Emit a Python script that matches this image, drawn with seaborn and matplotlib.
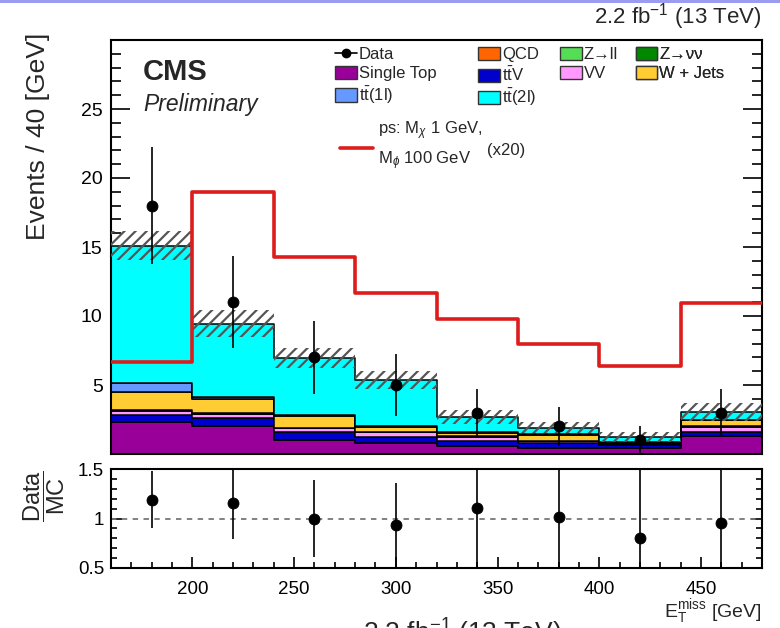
import matplotlib
matplotlib.use("Agg")
import matplotlib.pyplot as plt
from matplotlib.lines import Line2D
from matplotlib.patches import Patch, Rectangle
from matplotlib.ticker import MultipleLocator, FixedLocator, FixedFormatter
import pandas as pd
import seaborn as sns

# ---- binning in missing transverse energy [GeV] ----
bin_edges = [160, 200, 240, 280, 320, 360, 400, 440, 480]
bin_centers = [180, 220, 260, 300, 340, 380, 420, 460]

# ---- background yields per bin (events / 40 GeV) ----
single_top = [2.35, 2.00, 1.03, 0.79, 0.55, 0.43, 0.43, 1.27]
ttv = [0.45, 0.60, 0.53, 0.43, 0.36, 0.40, 0.25, 0.36]
vv = [0.35, 0.30, 0.30, 0.34, 0.31, 0.08, 0.06, 0.36]
qcd = [0.02, 0.02, 0.02, 0.02, 0.02, 0.02, 0.02, 0.02]
z_ll = [0.02, 0.02, 0.02, 0.02, 0.02, 0.02, 0.02, 0.02]
z_nunu = [0.02, 0.02, 0.02, 0.02, 0.02, 0.02, 0.02, 0.02]
w_jets = [1.25, 1.00, 0.85, 0.34, 0.24, 0.43, 0.07, 0.38]
tt_1l = [0.70, 0.20, 0.05, 0.05, 0.04, 0.03, 0.02, 0.05]
tt_2l = [9.94, 5.29, 4.13, 3.34, 1.14, 0.49, 0.31, 0.59]

# total background and its uncertainty band
mc_total = [15.10, 9.45, 6.95, 5.35, 2.70, 1.92, 1.20, 3.07]
mc_unc = [1.05, 1.00, 0.75, 0.65, 0.50, 0.43, 0.36, 0.65]

# ---- observed data ----
data = [18, 11, 7, 5, 3, 2, 1, 3]
data_err = [4.24, 3.32, 2.65, 2.24, 1.73, 1.41, 1.00, 1.73]

# ---- signal: pseudoscalar, M_chi = 1 GeV, M_phi = 100 GeV, scaled x20 ----
signal_x20 = [6.65, 19.00, 14.30, 11.70, 9.75, 8.00, 6.35, 10.95]

# ---- data / MC ratio ----
ratio = [1.19, 1.16, 1.00, 0.93, 1.11, 1.02, 0.80, 0.95]
ratio_err = [0.29, 0.37, 0.39, 0.43, 0.64, 0.72, 0.80, 0.55]

x_ticks = [200, 250, 300, 350, 400, 450]
y_ticks = [5, 10, 15, 20, 25]
ratio_ticks = [0.5, 1.0, 1.5]
ratio_tick_labels = ["0.5", "1", "1.5"]

# process name -> (yields, colour); stacking bottom -> top
processes = {
    "Single Top": (single_top, "#990099"),
    r"t$\bar{\rm t}$V": (ttv, "#0000cc"),
    "VV": (vv, "#ff99ff"),
    "QCD": (qcd, "#ff6600"),
    "Z\u2192ll": (z_ll, "#55dd55"),
    "Z\u2192\u03bd\u03bd": (z_nunu, "#008800"),
    "W + Jets": (w_jets, "#ffcc33"),
    r"t$\bar{\rm t}$(1l)": (tt_1l, "#6699ff"),
    r"t$\bar{\rm t}$(2l)": (tt_2l, "#00ffff"),
}

sns.set_style("ticks")
plt.rcParams["font.family"] = ["Liberation Sans", "DejaVu Sans"]
plt.rcParams["mathtext.fontset"] = "custom"
plt.rcParams["mathtext.rm"] = "Liberation Sans"
plt.rcParams["mathtext.it"] = "Liberation Sans:italic"
plt.rcParams["mathtext.bf"] = "Liberation Sans:bold"
plt.rcParams["hatch.linewidth"] = 1.6

fig = plt.figure(figsize=(7.8, 6.28), dpi=100)
W, H = 780.0, 628.0
ax = fig.add_axes([111 / W, 1 - 454 / H, 651 / W, 414 / H])
rax = fig.add_axes([111 / W, 1 - 568 / H, 651 / W, 99 / H])

# ---- stacked backgrounds ----
rows = []
for name, (vals, _) in processes.items():
    for c, v in zip(bin_centers, vals):
        rows.append({"met": c, "yield": v, "process": name})
df = pd.DataFrame(rows)
names = list(processes.keys())
palette = {n: processes[n][1] for n in names}
# seaborn puts the first hue level on top of the stack
sns.histplot(data=df, x="met", weights="yield", hue="process",
             hue_order=names[::-1], palette=palette, bins=bin_edges,
             multiple="stack", element="step", alpha=1.0,
             edgecolor="black", linewidth=1.1, legend=False, ax=ax)

# ---- MC uncertainty band ----
lo = [t - u for t, u in zip(mc_total, mc_unc)]
hi = [t + u for t, u in zip(mc_total, mc_unc)]
ax.fill_between(bin_edges, lo + [lo[-1]], hi + [hi[-1]], step="post",
                facecolor="none", edgecolor="#555555", hatch="///",
                linewidth=0, zorder=3)

# ---- signal ----
sns.histplot(x=bin_centers, weights=signal_x20, bins=bin_edges,
             element="step", fill=False, color="#dd1c1c", linewidth=2.6,
             ax=ax, zorder=4)

# ---- data ----
ax.errorbar(bin_centers, data, yerr=data_err, fmt="none", ecolor="black",
            elinewidth=1.2, capsize=0, zorder=5)
sns.scatterplot(x=bin_centers, y=data, color="black", s=62,
                edgecolor="black", zorder=6, ax=ax)

ax.set_xlim(160, 480)
ax.set_ylim(0, 30)
ax.set_xlabel("")
ax.set_ylabel("")
ax.xaxis.set_major_locator(FixedLocator(x_ticks))
ax.xaxis.set_minor_locator(MultipleLocator(10))
ax.yaxis.set_major_locator(FixedLocator(y_ticks))
ax.yaxis.set_minor_locator(MultipleLocator(1))
ax.tick_params(axis="x", which="both", labelbottom=False)
ax.tick_params(which="both", direction="in", right=True, top=False,
               width=1.2, colors="black")
ax.tick_params(axis="y", which="major", length=14, labelsize=14, pad=6)
ax.tick_params(axis="y", which="minor", length=7)
ax.tick_params(axis="x", which="major", length=10)
ax.tick_params(axis="x", which="minor", length=5)
for s in ax.spines.values():
    s.set_linewidth(1.5)
    s.set_color("black")

# ---- legend (four columns) ----
leg_handles = {
    "Data": Line2D([], [], color="black", marker="o", markersize=6, lw=1.2),
}
for n in names:
    leg_handles[n] = Patch(facecolor=palette[n], edgecolor="#333333", lw=1.0)
columns = [
    (0.344, ["Data", "Single Top", r"t$\bar{\rm t}$(1l)"]),
    (0.564, ["QCD", r"t$\bar{\rm t}$V", r"t$\bar{\rm t}$(2l)"]),
    (0.690, ["Z\u2192ll", "VV"]),
    (0.806, ["Z\u2192\u03bd\u03bd", "W + Jets"]),
]
for xpos, labels in columns:
    lg = ax.legend([leg_handles[l] for l in labels], labels,
                   loc="upper left", bbox_to_anchor=(xpos, 0.983),
                   frameon=False, fontsize=12, borderpad=0,
                   borderaxespad=0, handlelength=1.3, handleheight=0.85,
                   handletextpad=0.12, labelspacing=0.2)
    ax.add_artist(lg)

# signal legend entry
ax.plot([0.352, 0.402], [0.739, 0.739], color="#dd1c1c", lw=2.6,
        transform=ax.transAxes)
ax.text(0.410, 0.781, r"ps: M$_{\chi}$ 1 GeV,", transform=ax.transAxes,
        fontsize=12, va="center", ha="left")
ax.text(0.410, 0.708, r"M$_{\phi}$ 100 GeV", transform=ax.transAxes,
        fontsize=12, va="center", ha="left")
ax.text(0.578, 0.733, "(x20)", transform=ax.transAxes,
        fontsize=12, va="center", ha="left")

# CMS labels
ax.text(0.049, 0.923, "CMS", transform=ax.transAxes, fontsize=21,
        fontweight="bold", va="center", ha="left")
ax.text(0.049, 0.843, "Preliminary", transform=ax.transAxes, fontsize=16.5,
        fontstyle="italic", va="center", ha="left")
ax.text(1.0, 1.02, r"2.2 fb$^{-1}$ (13 TeV)", transform=ax.transAxes,
        fontsize=16, va="bottom", ha="right")

fig.text(38 / W, 1 - 33 / H, "Events / 40 [GeV]", rotation=90,
         ha="center", va="top", fontsize=19)

# ---- ratio panel ----
rax.axhline(1.0, color="#777777", lw=1.3, ls=(0, (3, 3)), zorder=1)
rax.errorbar(bin_centers, ratio, yerr=ratio_err, fmt="none", ecolor="black",
             elinewidth=1.2, capsize=0, zorder=5)
sns.scatterplot(x=bin_centers, y=ratio, color="black", s=62,
                edgecolor="black", zorder=6, ax=rax)
rax.set_xlim(160, 480)
rax.set_ylim(0.5, 1.5)
rax.xaxis.set_major_locator(FixedLocator(x_ticks))
rax.xaxis.set_minor_locator(MultipleLocator(10))
rax.yaxis.set_major_locator(FixedLocator(ratio_ticks))
rax.yaxis.set_major_formatter(FixedFormatter(ratio_tick_labels))
rax.yaxis.set_minor_locator(MultipleLocator(0.1))
rax.tick_params(which="both", direction="in", right=True, top=False,
                width=1.2, colors="black")
rax.tick_params(which="major", length=8, labelsize=13.5)
rax.tick_params(which="minor", length=4)
rax.tick_params(axis="x", pad=9)
rax.tick_params(axis="y", pad=5)
for s in rax.spines.values():
    s.set_linewidth(1.5)
    s.set_color("black")
rax.set_xlabel("")
rax.set_ylabel("")
fig.text(44 / W, 1 - 496 / H, r"$\dfrac{\mathrm{Data}}{\mathrm{MC}}$",
         rotation=90, ha="center", va="center", fontsize=17)
fig.text(762 / W, 1 - 612 / H, r"E$_{\rm T}^{\rm miss}$ [GeV]",
         ha="right", va="center", fontsize=14)

# luminosity caption below the figure body
fig.text(363 / W, 1 - 617 / H, r"2.2 fb$^{-1}$ (13 TeV)", ha="left",
         va="top", fontsize=19)

# thin frame strip along the top edge
fig.add_artist(Rectangle((0, 1 - 3 / H), 1, 3 / H, transform=fig.transFigure,
                         facecolor="#9b9bef", edgecolor="none"))

fig.savefig("out.png", dpi=100)
